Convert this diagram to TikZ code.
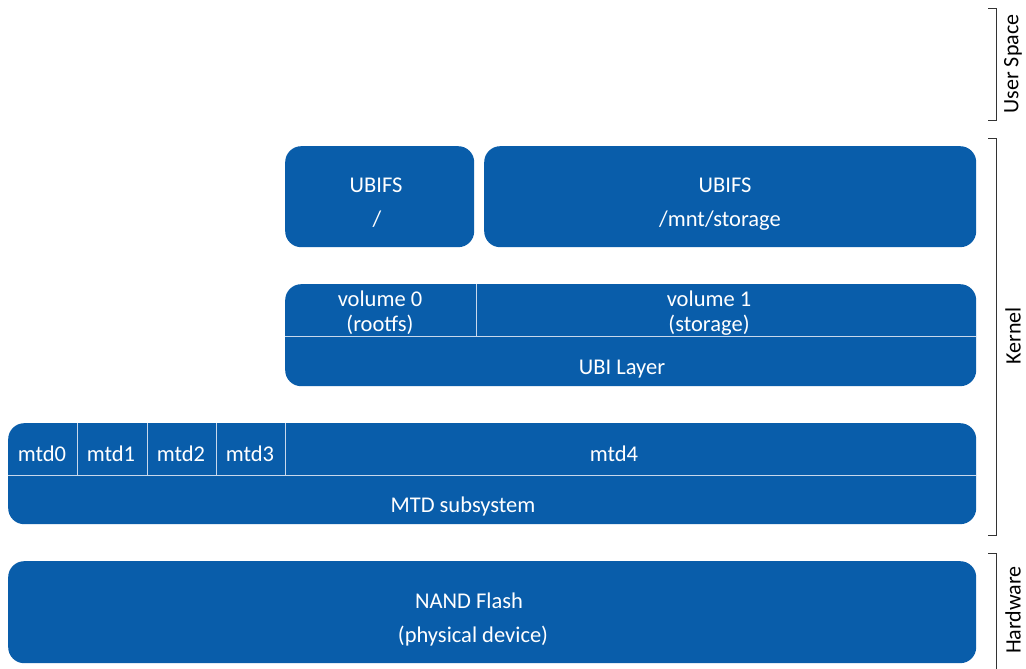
\documentclass[tikz,border=0pt]{standalone}
\usepackage{fontspec}
\setmainfont{Carlito}
\definecolor{boxblue}{RGB}{9,93,170}
\definecolor{divline}{RGB}{200,216,236}
\begin{document}
\begin{tikzpicture}[x=1pt,y=-1pt,
  box/.style={fill=boxblue, draw=none, rounded corners=16pt, anchor=north west, inner sep=0pt},
  lbl/.style={text=white, font=\fontsize{22.5}{26}\selectfont, anchor=base, inner sep=0pt},
  side/.style={text=black, font=\fontsize{22}{26}\selectfont, rotate=90, inner sep=0pt},
  div/.style={draw=divline, line width=1pt},
  brk/.style={draw=black!80, line width=0.9pt}]
\path[use as bounding box, fill=white] (0,0) rectangle (1026,669);
% boxes
\node[box, minimum width=189pt, minimum height=101pt] (ubifsA) at (285,146) {};
\node[box, minimum width=492pt, minimum height=101pt] (ubifsB) at (484,146) {};
\node[box, minimum width=691pt, minimum height=102pt] (ubi) at (285,284) {};
\node[box, minimum width=968pt, minimum height=101pt] (mtd) at (8,423) {};
\node[box, minimum width=968pt, minimum height=102pt] (nand) at (8,561) {};
% dividers
\coordinate (ubiL) at (285,336);
\coordinate (ubiR) at (976,336);
\coordinate (ubiV1) at (476,284);
\coordinate (ubiV2) at (476,336);
\draw[div] (ubiL) -- (ubiR);
\draw[div] (ubiV1) -- (ubiV2);
\coordinate (mtdL) at (8,475);
\coordinate (mtdR) at (976,475);
\draw[div] (mtdL) -- (mtdR);
\foreach \x in {77,147,216,285} {
  \coordinate (t\x) at (\x,423);
  \coordinate (b\x) at (\x,475);
  \draw[div] (t\x) -- (b\x);
}
% texts
\node[lbl] (tA1) at (376,192) {UBIFS};
\node[lbl] (tA2) at (377,226) {/};
\node[lbl] (tB1) at (725,192) {UBIFS};
\node[lbl] (tB2) at (720,226) {/mnt/storage};
\node[lbl] (v0a) at (380,306) {volume 0};
\node[lbl] (v0b) at (380,331) {(rootfs)};
\node[lbl] (v1a) at (709,306) {volume 1};
\node[lbl] (v1b) at (709,331) {(storage)};
\node[lbl] (ubit) at (622,374) {UBI Layer};
\node[lbl] (m0) at (42,461) {mtd0};
\node[lbl] (m1) at (111,461) {mtd1};
\node[lbl] (m2) at (181,461) {mtd2};
\node[lbl] (m3) at (250,461) {mtd3};
\node[lbl] (m4) at (614,461) {mtd4};
\node[lbl] (mtdt) at (463,512) {MTD subsystem};
\node[lbl] (n1) at (469,608) {NAND Flash};
\node[lbl] (n2) at (473,642) {(physical device)};
% brackets
\draw[brk] (988,8) -- (996,8) -- (996,120) -- (988,120);
\draw[brk] (988,138) -- (996,138) -- (996,535) -- (988,535);
\draw[brk] (988,553) -- (996,553) -- (996,670);
\node[side] (us) at (1013,64) {User Space};
\node[side] (kn) at (1013,336) {Kernel};
\node[side] (hw) at (1013,610) {Hardware};
\end{tikzpicture}
\end{document}
